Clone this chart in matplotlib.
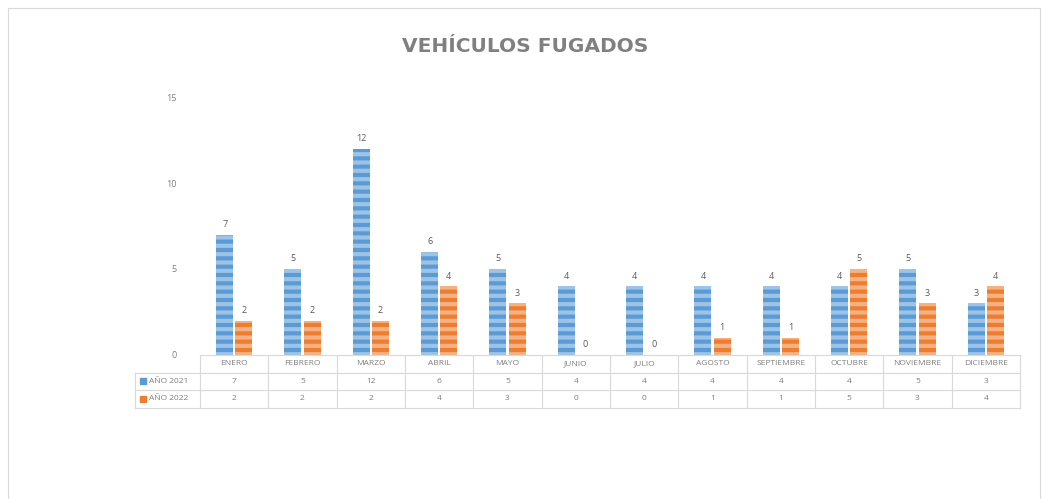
import numpy as np
import matplotlib
matplotlib.use("Agg")
import matplotlib.pyplot as plt
from matplotlib.patches import Rectangle
import matplotlib.transforms as mtransforms

meses = ["ENERO", "FEBRERO", "MARZO", "ABRIL", "MAYO", "JUNIO", "JULIO",
         "AGOSTO", "SEPTIEMBRE", "OCTUBRE", "NOVIEMBRE", "DICIEMBRE"]
anio_2021 = [7, 5, 12, 6, 5, 4, 4, 4, 4, 4, 5, 3]
anio_2022 = [2, 2, 2, 4, 3, 0, 0, 1, 1, 5, 3, 4]
series = ["AÑO 2021", "AÑO 2022"]

azul = "#5B9BD5"
naranja = "#ED7D31"
gris_txt = "#7F7F7F"
gris_lin = "#D9D9D9"

plt.rcParams["font.family"] = ["Open Sans", "DejaVu Sans"]
plt.rcParams["hatch.linewidth"] = 3.0

fig = plt.figure(figsize=(10.48, 4.99), dpi=100)
ax = fig.add_axes([200 / 1048, 144 / 499, 820 / 1048, 258 / 499])

x = np.arange(len(meses))
w = 0.25
off = 0.14
b1 = ax.bar(x - off, anio_2021, w, color=azul, edgecolor="#9DC3E6",
            linewidth=0, hatch="--")
b2 = ax.bar(x + off, anio_2022, w, color=naranja, edgecolor="#F4B183",
            linewidth=0, hatch="--")

for bars, vals in ((b1, anio_2021), (b2, anio_2022)):
    for r, v in zip(bars, vals):
        ax.annotate(str(v), (r.get_x() + r.get_width() / 2, v),
                    xytext=(0, 4), textcoords="offset points",
                    ha="center", va="bottom", fontsize=6.5, color="#595959")

ax.set_xlim(-0.5, len(meses) - 0.5)
ax.set_ylim(0, 15)
ax.set_yticks([0, 5, 10, 15])
ax.tick_params(axis="y", length=0, labelsize=6.5, labelcolor=gris_txt, pad=17)
ax.set_xticks([])
for s in ("top", "right", "left"):
    ax.spines[s].set_visible(False)
ax.spines["bottom"].set_color(gris_lin)

# tabla de datos bajo el eje
trans = mtransforms.blended_transform_factory(ax.transData, ax.transAxes)
row_h = 17.5 / 258
label_left = -0.5 - 65 / (820 / 12)
for i in range(len(meses) + 1):
    ax.plot([i - 0.5, i - 0.5], [0, -3 * row_h], transform=trans,
            color=gris_lin, lw=0.8, clip_on=False)
for k in range(1, 4):
    ax.plot([label_left, len(meses) - 0.5], [-k * row_h, -k * row_h],
            transform=trans, color=gris_lin, lw=0.8, clip_on=False)
ax.plot([label_left, label_left], [-row_h, -3 * row_h], transform=trans,
        color=gris_lin, lw=0.8, clip_on=False)

for i, m in enumerate(meses):
    ax.text(i, -0.5 * row_h, m, transform=trans, ha="center", va="center",
            fontsize=6, color=gris_txt)
for k, (nombre, vals, col) in enumerate(((series[0], anio_2021, azul),
                                         (series[1], anio_2022, naranja))):
    yy = -(k + 1.5) * row_h
    for i, v in enumerate(vals):
        ax.text(i, yy, str(v), transform=trans, ha="center", va="center",
                fontsize=6, color=gris_txt)
    ax.add_patch(Rectangle((label_left + 0.07, yy - 0.012), 0.09, 0.024,
                           transform=trans, color=col, clip_on=False))
    ax.text(label_left + 0.2, yy, nombre, transform=trans, ha="left",
            va="center", fontsize=6, color=gris_txt)

fig.text(525 / 1048, 1 - 47 / 499, "VEHÍCULOS FUGADOS", ha="center",
         va="center", fontsize=14.5, fontweight="bold", color="#808080",
         family="DejaVu Sans")

# marco del gráfico
fig.patches.append(Rectangle((8 / 1048, -0.05), 1032 / 1048, 1.05 - 8 / 499,
                             transform=fig.transFigure, fill=False,
                             edgecolor=gris_lin, lw=0.8))

fig.savefig("out.png", dpi=100)
